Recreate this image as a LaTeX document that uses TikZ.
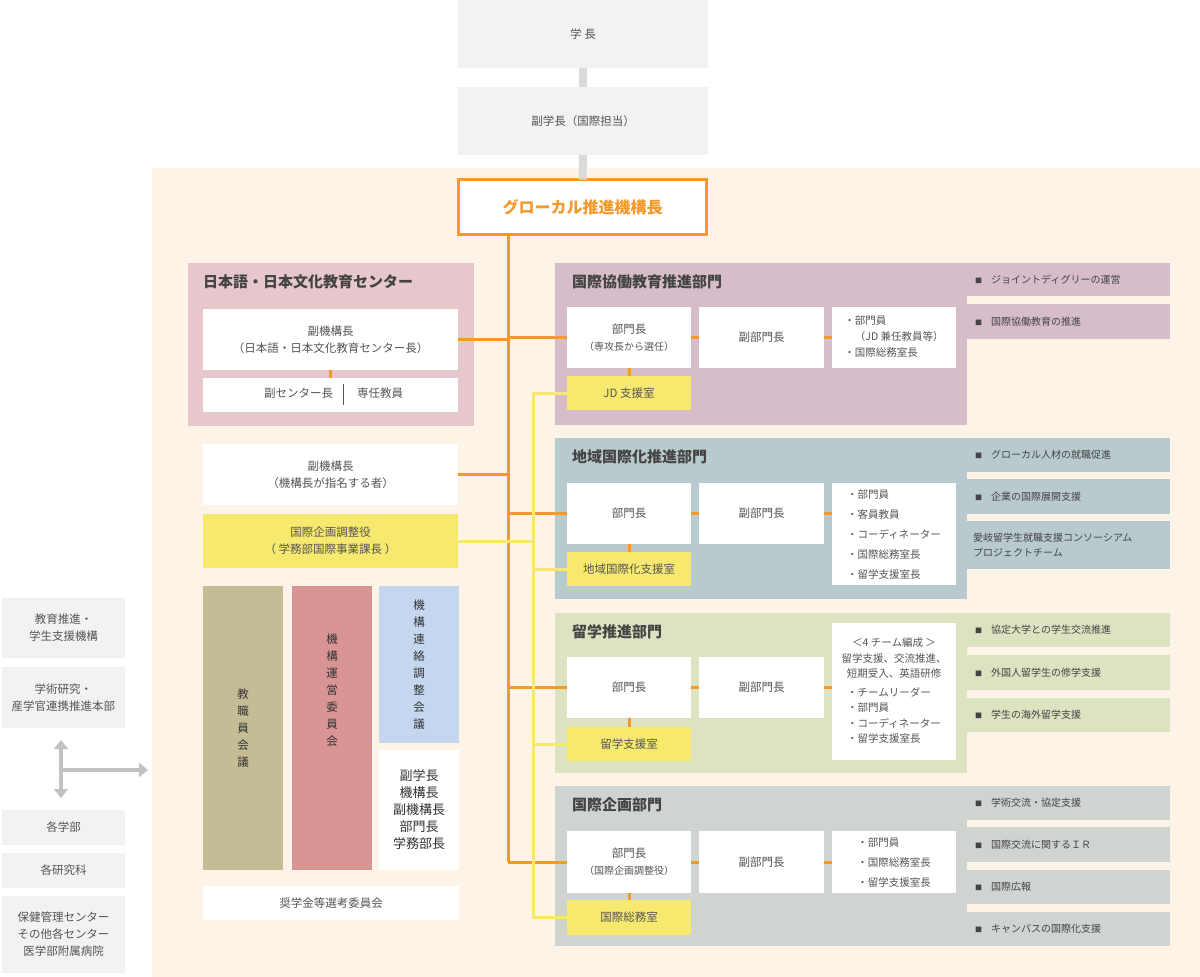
\documentclass[tikz,border=0pt]{standalone}
\usepackage{fontspec}
\setmainfont{Noto Sans CJK JP}
\usetikzlibrary{arrows.meta}
\definecolor{cream}{HTML}{FDF4E7}
\definecolor{pale}{HTML}{F2F2F2}
\definecolor{txt}{HTML}{555555}
\definecolor{orng}{HTML}{F39A2B}
\definecolor{yel}{HTML}{F7E96E}
\definecolor{pinkc}{HTML}{E6C8CC}
\definecolor{mauve}{HTML}{D6BDC9}
\definecolor{bluegr}{HTML}{B9CACE}
\definecolor{olive}{HTML}{DCE3C0}
\definecolor{grayd}{HTML}{D0D4D0}
\definecolor{khaki}{HTML}{C4BC95}
\definecolor{rosec}{HTML}{D99494}
\definecolor{skyc}{HTML}{C5D7EE}
\tikzset{
  box/.style={inner sep=0pt, outer sep=0pt, align=center, text=txt, font=\fontsize{11.5}{17}\selectfont},
  wbox/.style={box, fill=white},
  gbox/.style={box, fill=pale},
  ybox/.style={box, fill=yel},
  frame/.style={inner sep=0pt, outer sep=0pt},
  title/.style={anchor=west, inner sep=0pt, text=txt!80!black, font=\fontsize{15}{18}\bfseries\selectfont},
  tagtxt/.style={anchor=west, inner sep=0pt, align=left, text=txt!80!black, font=\fontsize{10}{16}\selectfont},
  oline/.style={draw=orng, line width=3pt},
  yline/.style={draw=yel, line width=3pt},
}
\begin{document}
\begin{tikzpicture}[x=1pt, y=-1pt]
    \useasboundingbox (0,0) rectangle (1200,977);
    \fill[cream] (152,168) rectangle (1200,977);

    % Top
    \node [gbox, minimum width=250, minimum height=68] (gaku) at (583,34) {学 長};
    \node [gbox, minimum width=250, minimum height=68] (fuku) at (583,121) {副学長（国際担当）};
    \node [box, fill=white, draw=orng, line width=3pt, minimum width=248, minimum height=55,
           text=orng, font=\fontsize{16}{18}\bfseries\selectfont] (glocal) at (582.5,207) {グローカル推進機構長};
    \draw [draw=pale!90!black, line width=8pt] (gaku.south) -- (fuku.north);
    \draw [draw=pale!90!black, line width=8pt] (fuku.south) -- (glocal.north);

    % Center
    \node [frame, fill=pinkc, minimum width=286, minimum height=163] (nihon) at (331,344.5) {};
    \node [title] (nihont) at (203,282) {日本語・日本文化教育センター};
    \node [wbox, minimum width=255, minimum height=61] (fkk1) at (330.5,339.5) {副機構長\\（日本語・日本文化教育センター長）};
    \node [wbox, minimum width=255, minimum height=34] (sub) at (330.5,395) {};
    \node [box, anchor=east] (subl) at (333,393) {副センター長};
    \node [box, anchor=west] (subr) at (357,393) {専任教員};
    \draw [txt, line width=0.6pt] (343,384) -- (343,405);
    \draw [oline] (fkk1.south) -- (sub.north);
    \node [wbox, minimum width=255, minimum height=61] (fkk2) at (330.5,474.5) {副機構長\\（機構長が指名する者）};
    \node [ybox, minimum width=255, minimum height=54] (kikaku) at (330.5,541) {国際企画調整役\\（ 学務部国際事業課長 ）};

    % Committees
    \node [box, fill=khaki, minimum width=80, minimum height=284, text=txt!60!black] (kyoshoku) at (243,728) {教\\職\\員\\会\\議};
    \node [frame, fill=rosec, minimum width=80, minimum height=284] (unei) at (332,728) {};
    \node [box, text=txt!60!black] (ueit) at (332,690) {機\\構\\運\\営\\委\\員\\会};
    \node [box, fill=skyc, minimum width=80, minimum height=157, text=txt!60!black] (renraku) at (419,664.5) {機\\構\\連\\絡\\調\\整\\会\\議};
    \node [wbox, minimum width=80, minimum height=120, text=txt!60!black, font=\fontsize{13}{17}\selectfont] (renmem) at (419,810) {副学長\\機構長\\副機構長\\部門長\\学務部長};
    \node [wbox, minimum width=256, minimum height=34] (shogaku) at (331,903) {奨学金等選考委員会};

    % Left
    \node [gbox, minimum width=123, minimum height=60] (kyoiku) at (63.5,628) {教育推進・\\学生支援機構};
    \node [gbox, minimum width=123, minimum height=61] (gakujutsu) at (63.5,697.5) {学術研究・\\産学官連携推進本部};
    \node [gbox, minimum width=123, minimum height=35] (gakubu) at (63.5,827.5) {各学部};
    \node [gbox, minimum width=123, minimum height=35] (kenkyuka) at (63.5,870.5) {各研究科};
    \node [gbox, minimum width=123, minimum height=77] (center) at (63.5,934.5) {保健管理センター\\その他各センター\\医学部附属病院};
    \coordinate (av1) at (61,740);
    \coordinate (av2) at (61,798);
    \coordinate (ac) at (61,770);
    \coordinate (ah) at (148,770);
    \draw [pale!80!black, line width=4pt, {Triangle[width=14pt,length=9pt]}-{Triangle[width=14pt,length=9pt]}] (av1) -- (av2);
    \draw [pale!80!black, line width=4pt, -{Triangle[width=14pt,length=9pt]}] (ac) -- (ah);

    % Departments
    \node [frame, fill=mauve, minimum width=412, minimum height=162] (d1) at (761,344) {};
    \node [frame, fill=bluegr, minimum width=412, minimum height=161] (d2) at (761,518.5) {};
    \node [frame, fill=olive, minimum width=412, minimum height=160] (d3) at (761,693) {};
    \node [frame, fill=grayd, minimum width=412, minimum height=160] (d4) at (761,866) {};
    \node [title] at (572,282) {国際協働教育推進部門};
    \node [title] at (572,457) {地域国際化推進部門};
    \node [title] at (572,632) {留学推進部門};
    \node [title] at (572,805) {国際企画部門};

    % Department boxes
    \node [wbox, minimum width=124, minimum height=61] (d1head) at (629,337.5) {部門長\\{\fontsize{10}{14}\selectfont（専攻長から選任）}};
    \node [wbox, minimum width=125, minimum height=61] (d1vice) at (761.5,337.5) {副部門長};
    \node [wbox, minimum width=124, minimum height=61, font=\fontsize{10.5}{16}\selectfont] (d1mem) at (894,337.5) {\begin{tabular}{@{}l@{}}・部門員\\\quad（JD 兼任教員等）\\・国際総務室長\end{tabular}};
    \node [ybox, minimum width=124, minimum height=34] (d1off) at (629,393) {JD 支援室};

    \node [wbox, minimum width=124, minimum height=61] (d2head) at (629,513.5) {部門長};
    \node [wbox, minimum width=125, minimum height=61] (d2vice) at (761.5,513.5) {副部門長};
    \node [wbox, minimum width=124, minimum height=102, font=\fontsize{10.5}{20}\selectfont] (d2mem) at (894,534) {\begin{tabular}{@{}l@{}}・部門員\\・客員教員\\・コーディネーター\\・国際総務室長\\・留学支援室長\end{tabular}};
    \node [ybox, minimum width=124, minimum height=34] (d2off) at (629,569) {地域国際化支援室};

    \node [wbox, minimum width=124, minimum height=61] (d3head) at (629,687.5) {部門長};
    \node [wbox, minimum width=125, minimum height=61] (d3vice) at (761.5,687.5) {副部門長};
    \node [wbox, minimum width=124, minimum height=137, font=\fontsize{10.5}{15.5}\selectfont] (d3mem) at (894,691.5) {\begin{tabular}{@{}c@{}}＜4 チーム編成 ＞\\留学支援、交流推進、\\短期受入、英語研修\end{tabular}\\[2pt]\begin{tabular}{@{}l@{}}・チームリーダー\\・部門員\\・コーディネーター\\・留学支援室長\end{tabular}};
    \node [ybox, minimum width=124, minimum height=34] (d3off) at (629,744) {留学支援室};

    \node [wbox, minimum width=124, minimum height=62] (d4head) at (629,862) {部門長\\{\fontsize{10}{14}\selectfont（国際企画調整役）}};
    \node [wbox, minimum width=125, minimum height=62] (d4vice) at (761.5,862) {副部門長};
    \node [wbox, minimum width=124, minimum height=62, font=\fontsize{10.5}{20}\selectfont] (d4mem) at (894,862) {\begin{tabular}{@{}l@{}}・部門員\\・国際総務室長\\・留学支援室長\end{tabular}};
    \node [ybox, minimum width=124, minimum height=35] (d4off) at (629,917.5) {国際総務室};

    % Tags
    \foreach \y/\h/\c/\t in {279.5/33/mauve/ジョイントディグリーの運営, 321.5/35/mauve/国際協働教育の推進,
        455/34/bluegr/グローカル人材の就職促進, 496.5/35/bluegr/企業の国際展開支援,
        630/34/olive/協定大学との学生交流推進, 672.5/35/olive/外国人留学生の修学支援, 715/34/olive/学生の海外留学支援,
        803/34/grayd/学術交流・協定支援, 844.5/35/grayd/国際交流に関するＩＲ, 887/34/grayd/国際広報, 929/34/grayd/キャンパスの国際化支援}
    {
        \node [frame, fill=\c, minimum width=203, minimum height=\h] (tag) at (1068.5,\y) {};
        \node [tagtxt] at (975,\y) {\fontsize{7}{8}\selectfont■\fontsize{10}{16}\selectfont\hspace{0.9em}\t};
    }
    \node [frame, fill=bluegr, minimum width=203, minimum height=48] (tagcons) at (1068.5,545) {};
    \node [tagtxt, font=\fontsize{10}{15}\selectfont] at (973,545) {愛岐留学生就職支援コンソーシアム\\プロジェクトチーム};

    % Orange connectors
    \coordinate (tr) at (508,862);
    \draw [oline] (glocal.south -| tr) -- (tr);
    \draw [oline] (fkk1.east) -- (fkk1.east -| tr);
    \draw [oline] (fkk2.east) -- (fkk2.east -| tr);
    \foreach \d in {d1, d2, d3, d4} {
        \draw [oline] (\d head.west) -- (\d head.west -| tr);
        \draw [oline] (\d head.east) -- (\d vice.west);
        \draw [oline] (\d vice.east) -- (\d vice.east -| \d mem.west);
        \draw [oline] (\d head.south) -- (\d off.north);
    }

    % Yellow connectors
    \coordinate (yb) at (533,393);
    \draw [yline] (d1off.west) -- (d1off.west -| yb) -- (d4off.west -| yb) -- (d4off.west);
    \draw [yline] (d2off.west) -- (d2off.west -| yb);
    \draw [yline] (d3off.west) -- (d3off.west -| yb);
    \draw [yline] (kikaku.east) -- (kikaku.east -| yb);
\end{tikzpicture}
\end{document}
